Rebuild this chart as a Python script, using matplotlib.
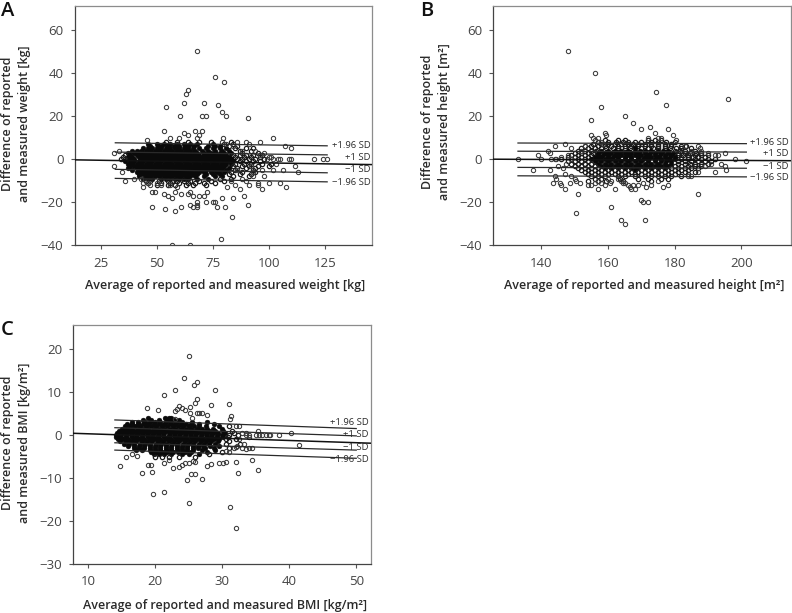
import matplotlib

matplotlib.use("Agg")
import matplotlib.pyplot as plt

plt.rcParams["font.family"] = ["Open Sans", "DejaVu Sans"]

W, H = 792, 613

# sparse points
weight_x = [68, 76, 80, 64, 63, 62, 71, 54, 77.5, 79, 60.5, 70, 72, 81, 90.5, 53, 67, 70, 69, 62, 64, 102, 79.5, 60, 56, 68,
            45.5, 90, 96, 86, 107, 110, 79, 81, 91, 33, 31, 120, 124, 126, 109, 110, 105, 104, 102, 100, 99, 111.5, 113,
            106.5, 102, 98, 97, 100, 105, 107.5, 97, 95, 95, 93, 91, 90, 88, 87, 85, 89, 90.5, 84, 81.5, 80.5, 83.5, 78.5,
            79, 75, 76, 77, 72, 72.5, 71, 69, 68, 68, 68, 66, 65, 65, 66, 64, 61, 61, 58, 53.5, 48, 57, 55, 53, 48, 49, 44,
            46, 36, 34.5, 31, 57, 65, 58, 59, 40, 43, 98, 101, 103, 94, 92, 96, 93, 88, 86, 84, 83, 44, 47, 50, 52, 56]
weight_y = [50, 38, 36, 32, 30, 26, 26, 24, 25, 22, 20, 20, 20, 20, 19, 13, 13, 13, 11, 12, 11, 10, 10, 10, 10, 10,
            9, 8, 8, 8, 6, 5, 8, 7, 7, 4, 3, 0, 0, 0, 0, 0, 0, 0, 0, 1, 0, -3, -6,
            -5, -5, -8, -5, -11, -11, -13, -14, -11, -12, -8, -12, -10, -9, -14, -12, -17, -21, -18, -13, -22, -27, -37,
            -18, -20, -20, -22, -20, -15, -17, -17, -20, -21, -22, -17, -15, -21, -22, -16, -16, -22, -24, -23, -22, -18, -17, -16, -15, -15, -13,
            -11, -10, -6, -3, -40, -40, -15, -13, -9, -9, 3, 1, -2, 4, -3, 2, -6, 4, -5, 6, -10, -11, -12, -11, -12, -12]

height_x = [148, 156, 174.5, 196, 177.5, 158, 155, 165, 167.5, 170, 172.5, 178, 174, 159, 159.5, 155, 155.5, 172, 175, 176,
            179.5, 180.5, 147, 144, 142, 142.5, 149, 139, 140, 133, 143, 144, 144.5, 137.5, 142.5, 147, 146.5, 145, 147.5,
            148, 144, 144.5, 143.5, 145.5, 146, 147, 148.5, 149, 150, 150.5, 151, 150.5, 151.5, 154, 155, 156, 157, 159,
            160.5, 162, 161, 164, 165, 167, 168, 167.5, 169, 170, 170.5, 171, 172, 170.5, 171.5, 173, 175, 176.5, 178, 187,
            192, 195.5, 195, 194, 198, 201.5, 195, 193, 192, 191, 187, 187.5, 183, 185, 184, 185, 187, 156, 157, 158, 158.5,
            163, 164, 165, 166, 157, 158, 160, 161, 166.5, 164.5, 190, 189, 188, 146, 149, 152, 153]
height_y = [50, 40, 31, 28, 25, 24, 18, 20, 17, 14, 15, 14, 12, 12, 11, 11, 10, 10, 10, 10,
            11, 9, 7, 6, 4, 3, 5, 2, 0, 0, 0, 0, 0, -5, -5, -7, -4, -3, -2,
            2, -8, -9, -11, -11, -12, -14, -11, -8, -9, -10, -16, -25, -11, -12, -12, -11, -14, -12,
            -11, -14, -22, -28, -30, -14, -14, -12, -12, -19, -20, -28, -20, -11, -13, -12, -10, -13, -12, -16,
            -6, -5, -3, -2, 0, -1, 3, 2, 2, -2, 6, 5, 6, 4, -8, -8, -6, 9, 10, 8, 7,
            -9, -10, -11, -12, -10, -11, -9, -10, -13, -11, 3, -3, 4, 1, 0, 4, 6]

bmi_x = [25, 24.3, 26.2, 25.8, 23, 29, 21.3, 26.2, 26, 31, 23.5, 24, 18.8, 20.5, 23, 23.2, 24.5, 25.2, 25.2, 26.3, 26.5, 27,
         28.3, 27.7, 31.3, 31.1, 25.5, 23, 32, 32.5, 35.3, 33.5, 34, 35, 35.5, 36, 36.5, 37, 37.2, 38.5, 40.2, 41.5, 34.5,
         34, 33.5, 34.5, 35.3, 32.4, 32, 30.5, 30.2, 29.5, 28.4, 27.7, 27, 26, 25.3, 24.8, 25, 21.3, 19.7, 19.5, 18, 19,
         19.4, 14.8, 15.7, 16.5, 17.3, 22.7, 23.6, 24, 24.5, 25, 31.2, 32.1, 21.3, 22, 26, 25.7, 33, 32.5, 32, 33.3, 31.8,
         33, 32.2, 34, 31, 30.5, 33.6]
bmi_y = [18.3, 13.2, 12.4, 11.6, 10.4, 10.4, 9.2, 8.4, 7.4, 7.2, 6.8, 6.2, 6.3, 5.7, 5.6, 6, 5.7, 6.5, 5.2, 5, 5, 5.2,
         7, 4.7, 4.5, 3.8, 4, 3.7, 2, 2, 1, 0.5, 0.1, 0, 0, 0, 0, 0, 0, 0, 0.4, -2.3, -2.9,
         -2.9, -3.3, -5.8, -8.2, -8.7, -6.2, -6.2, -6.5, -6.4, -6.8, -7.3, -10.2, -9, -9, -10.4, -15.8, -13.3, -13.8, -8.5, -8.7, -7,
         -7, -7.1, -5.2, -4.3, -4.9, -7.6, -7.5, -7, -6.5, -6.5, -16.6, -21.6, -6.5, -5.8, -6.2, -6, 0.5, -1, -2.8, -2, -3,
         -3, -2.6, -0.5, -4, -3.8, 0]

# dense clouds, one list of x per y level
weight_rows = {
    8: [54, 59, 64, 69, 74, 83],
    7: [46, 50, 53, 56, 59, 62, 65, 68, 75, 80, 84],
    6: [47, 50.5, 52, 55, 57.5, 60, 62.5, 64, 66.5, 73, 76, 78, 82, 86],
    5: [44, 46, 48, 50, 52, 54, 56, 58, 60, 62, 64, 66, 69, 72, 75, 78, 81, 85, 90, 93],
    4: [39, 41, 43, 45, 47, 49, 51, 53, 55, 57, 59, 61, 63, 65, 67, 70, 73, 76, 79, 82, 87, 92],
    3: [37, 40, 42, 44, 46, 48, 50, 52, 54, 56, 58, 60, 62, 64, 66, 68, 71, 74, 76, 78, 80, 83, 88, 95],
    2: [36, 38, 41, 43, 45, 47, 49, 51, 53, 55, 57, 59, 61, 63, 65, 67, 69, 71, 73, 75, 77, 79, 81, 84, 87, 90, 93, 97],
    1: [35, 37, 39, 42, 44, 46, 48, 50, 52, 54, 56, 58, 60, 62, 64, 66, 68, 70, 72, 74, 76, 78, 80, 82, 85, 89, 92, 96],
    0: [34, 36, 38, 40, 43, 45, 47, 49, 51, 53, 55, 57, 59, 61, 63, 65, 67, 69, 71, 73, 75, 77, 79, 81, 83, 86, 88, 91, 94, 98],
    -1: [36, 38, 40, 42, 44, 46, 48, 50, 52, 54, 56, 58, 60, 62, 64, 66, 68, 70, 72, 74, 76, 78, 80, 82, 84, 87, 90, 93, 96],
    -2: [37, 39, 41, 43, 45, 47, 49, 51, 53, 55, 57, 59, 61, 63, 65, 67, 69, 71, 73, 75, 77, 79, 81, 83, 85, 89, 92, 97, 101],
    -3: [38, 40, 42, 44, 46, 48, 50, 52, 54, 56, 58, 60, 62, 64, 66, 68, 70, 72, 74, 76, 78, 80, 84, 88, 91, 95, 100],
    -4: [37, 41, 43, 45, 47, 49, 51, 53, 55, 57, 59, 61, 63, 65, 67, 69, 71, 73, 75, 77, 79, 82, 86, 90, 94],
    -5: [39, 42, 44, 46, 48, 50, 52, 54, 56, 58, 60, 62, 64, 66, 68, 70, 72, 74, 76, 78, 81, 85, 93],
    -6: [41, 43, 45, 47, 49, 51, 53, 55, 57, 59, 61, 63, 65, 67, 69, 71, 74, 77, 80, 83, 88, 94],
    -7: [42, 44, 46, 48, 50, 52, 54, 56, 58, 60, 62, 64, 66, 68, 72, 75, 78, 82, 87, 92],
    -8: [42, 45, 47, 49, 51, 53, 55, 57, 59, 61, 63, 65, 67, 71, 76, 79, 84, 91],
    -9: [44, 46, 48, 52, 54, 56, 58, 60, 62, 64, 68, 73, 78, 83],
    -10: [45, 47, 51, 55, 57, 59, 62, 65, 69, 74, 80],
    -11: [46, 52, 56, 60, 64, 67, 71, 76],
    -12: [50, 55, 58, 63, 66, 72],
}

height_rows = {
    9: [159, 163, 165, 172, 174, 176],
    8: [157, 160, 162.5, 164.5, 166, 168, 170, 173, 175, 177.5, 180],
    7: [155.5, 158, 160, 162, 164, 166, 167.5, 169, 171, 173, 175, 177, 179],
    6: [153, 155, 157, 159, 161, 163, 165, 167, 169, 171, 173, 175, 177, 179, 182, 183.5],
    5: [152, 154, 156, 158, 159.5, 161.5, 163, 165, 166.5, 168, 170, 172, 173.5, 175, 177, 178.5, 180.5, 182, 185],
    4: [151, 153, 155, 156.5, 158, 160, 162, 164, 166, 168, 169.5, 171, 173, 175, 176.5, 178, 180, 181.5, 183, 186],
    3: [150, 152, 154, 155.5, 157, 159, 161, 163, 165, 167, 169, 171, 172.5, 174, 176, 178, 179.5, 181, 183, 184.5, 186.5, 188],
    2: [149, 151, 153, 155, 157, 158.5, 160, 162, 164, 166, 168, 170, 172, 174, 175.5, 177, 179, 181, 182.5, 184, 186, 188, 190],
    1: [148, 150, 152, 154, 156, 158, 160, 161.5, 163, 165, 167, 169, 171, 173, 175, 177, 178.5, 180, 182, 184, 185.5, 187, 189],
    0: [146, 149, 151, 153, 155, 157, 159, 161, 163, 165, 167, 169, 170.5, 172, 174, 176, 178, 180, 182, 184, 186, 188, 190, 192],
    -1: [148, 150, 152, 154, 156, 158, 160, 162, 164, 166, 168, 170, 172, 174, 176, 177.5, 179, 181, 183, 185, 187, 189, 191],
    -2: [149, 151, 153, 155, 157, 159, 161, 163, 165, 167, 169, 171, 173, 175, 177, 179, 181, 183, 184.5, 186, 188, 190],
    -3: [150, 152, 154, 156, 158, 160, 162, 164, 166, 168, 170, 172, 174, 176, 178, 180, 182, 184, 186, 188],
    -4: [151, 153, 155, 157, 159, 161, 163, 165, 167, 169, 171, 173, 175, 177, 179, 181, 183, 185, 187],
    -5: [152, 154, 156, 158, 160, 162, 164, 166, 168, 170, 172, 174, 176, 178, 180, 182, 184],
    -6: [153, 155, 157, 159, 161, 163, 165, 167, 169, 171, 173, 175, 177, 179, 181, 183, 186],
    -7: [154, 156, 158, 160, 162, 164, 166, 168, 170, 172, 174, 176, 178, 180, 184],
    -8: [155, 157, 159, 163, 165, 168, 171, 173, 175, 177, 179, 182],
    -9: [156, 158, 163.5, 169, 172, 176, 178],
    -10: [154, 157, 159.5, 164.5, 173],
}

bmi_rows = {
    4: [19, 21.5, 22, 22.4],
    3.5: [18.2, 19.4, 20.6, 21.8, 22.8, 23.6],
    3: [16.5, 17.5, 18.5, 19.2, 20, 20.8, 21.6, 22.4, 23.2, 24, 25.5, 27.8],
    2.5: [15.8, 16.6, 17.4, 18.2, 19, 19.8, 20.6, 21.4, 22.2, 23, 23.8, 24.6, 25.4, 26.5, 28.8],
    2: [15.5, 16.2, 17, 17.8, 18.6, 19.4, 20.2, 21, 21.8, 22.6, 23.4, 24.2, 25, 25.8, 26.6, 27.6, 29.5, 31],
    1.5: [15, 15.8, 16.6, 17.4, 18.2, 19, 19.8, 20.6, 21.4, 22.2, 23, 23.8, 24.6, 25.4, 26.2, 27, 27.8, 28.6, 30],
    1: [14.6, 15.4, 16.2, 17, 17.8, 18.6, 19.4, 20.2, 21, 21.8, 22.6, 23.4, 24.2, 25, 25.8, 26.6, 27.4, 28.2, 29, 30.2, 31.4],
    0.5: [14.3, 15, 15.8, 16.6, 17.4, 18.2, 19, 19.8, 20.6, 21.4, 22.2, 23, 23.8, 24.6, 25.4, 26.2, 27, 27.8, 28.6, 29.4, 30.4, 31.8],
    0: [14.2, 14.8, 15.6, 16.4, 17.2, 18, 18.8, 19.6, 20.4, 21.2, 22, 22.8, 23.6, 24.4, 25.2, 26, 26.8, 27.6, 28.4, 29.2, 30, 31, 32.4],
    -0.5: [14.1, 14.9, 15.7, 16.5, 17.3, 18.1, 18.9, 19.7, 20.5, 21.3, 22.1, 22.9, 23.7, 24.5, 25.3, 26.1, 26.9, 27.7, 28.5, 29.3, 30.1, 30.9],
    -1: [14.4, 15.2, 16, 16.8, 17.6, 18.4, 19.2, 20, 20.8, 21.6, 22.4, 23.2, 24, 24.8, 25.6, 26.4, 27.2, 28, 28.8, 29.6, 30.6, 32],
    -1.5: [14.8, 15.6, 16.4, 17.2, 18, 18.8, 19.6, 20.4, 21.2, 22, 22.8, 23.6, 24.4, 25.2, 26, 26.8, 27.6, 28.4, 29.4, 31],
    -2: [15.3, 16.1, 16.9, 17.7, 18.5, 19.3, 20.1, 20.9, 21.7, 22.5, 23.3, 24.1, 24.9, 25.7, 26.5, 27.3, 28.1, 29, 30.6, 32.6],
    -2.5: [16, 16.8, 17.6, 18.4, 19.2, 20, 20.8, 21.6, 22.4, 23.2, 24, 24.8, 25.6, 26.4, 27.2, 28.2, 29.6],
    -3: [16.8, 17.6, 18.4, 19.2, 20, 20.8, 21.6, 22.4, 23.2, 24, 24.8, 25.6, 26.4, 27.4, 28.8, 31],
    -3.5: [17.2, 18, 19.2, 20, 20.8, 21.6, 22.4, 23.2, 24, 24.8, 25.6, 27, 29],
    -4: [19.4, 20.2, 21, 21.8, 22.6, 23.4, 24.4, 25.4, 27.8, 30],
    -4.5: [19.8, 20.6, 21.4, 22.4, 24, 25, 26.5, 28],
    -5: [20, 21, 22, 23.5, 26],
}

# start and end of the limit lines, top to bottom: +1.96, +1, mean, -1, -1.96
weight_line_x = [31.5, 126]
weight_limits = [(7.6, 6.2), (3.3, 2.0), (-4.7, -6.3), (-8.9, -10.5)]
weight_mean = [(13.3, -0.3), (146, -2.5)]
height_line_x = [133, 201.5]
height_limits = [(7.5, 7.2), (3.7, 3.3), (-3.8, -4.2), (-7.7, -8.2)]
height_mean = [(125.6, 0.0), (214.8, -0.7)]
bmi_line_x = [14, 50]
bmi_limits = [(3.5, 1.5), (1.7, -0.2), (-1.8, -3.5), (-3.5, -5.4)]
bmi_mean = [(7.8, 0.4), (52.2, -1.9)]

sd_labels = ["+1.96 SD", "+1 SD", "\u22121 SD", "\u22121.96 SD"]

TEXT = "#2b2b2b"
TICK = "#444444"


def make_axes(fig, left, right, top, bottom, xlim, ylim, xticks, yticks):
    ax = fig.add_axes([left / W, 1 - bottom / H, (right - left) / W, (bottom - top) / H])
    ax.set_xlim(*xlim)
    ax.set_ylim(*ylim)
    ax.set_xticks(xticks)
    ax.set_yticks(yticks)
    ax.set_yticklabels([str(v).replace("-", "\u2212") for v in yticks])
    ax.tick_params(length=3, width=0.8, color="#555555", labelsize=9.5, labelcolor=TICK, pad=5)
    for name, spine in ax.spines.items():
        spine.set_linewidth(0.9)
        spine.set_color("#444444" if name in ("left", "bottom") else "#8c8c8c")
    return ax


def draw(ax, x, y, rows, blob, line_x, limits, mean, label_x, label_y):
    # points inside the black part of the cloud are drawn filled
    cx, cy, rx, ry = blob
    for level, xs in rows.items():
        inner = [v for v in xs if abs((v - cx) / rx) ** 3 + abs((level - cy) / ry) ** 3 <= 1]
        outer = [v for v in xs if v not in inner]
        ax.plot(inner, [level] * len(inner), "o", ms=3.5, mfc="#0a0a0a", mec="#0a0a0a", mew=0.3, zorder=2)
        ax.plot(outer, [level] * len(outer), "o", ms=3.1, mfc="none", mec="#1c1c1c", mew=0.9, zorder=2)
    ax.plot(x, y, "o", ms=3.1, mfc="none", mec="#3a3a3a", mew=0.75, zorder=2)
    for start, end in limits:
        ax.plot(line_x, [start, end], color="#2a2a2a", lw=0.9, zorder=3)
    ax.plot([mean[0][0], mean[1][0]], [mean[0][1], mean[1][1]], color="#111111", lw=1.1, zorder=3)
    for text, ypos in zip(sd_labels, label_y):
        ax.text(label_x, ypos, text, fontsize=6.8, color=TEXT, ha="right", va="center", zorder=4)


def labels(fig, letter, letter_xy, xlabel, xlabel_xy, ylabel, ylabel_xy):
    fig.text(letter_xy[0] / W, 1 - letter_xy[1] / H, letter, fontsize=14.5, color="#111111", ha="left", va="baseline",
             fontweight="semibold")
    fig.text(xlabel_xy[0] / W, 1 - xlabel_xy[1] / H, xlabel, fontsize=9, color=TEXT, ha="center", va="center",
             fontweight="semibold")
    fig.text(ylabel_xy[0] / W, 1 - ylabel_xy[1] / H, ylabel, fontsize=9, color=TEXT, ha="center", va="center",
             rotation=90, linespacing=1.45, multialignment="center", fontweight="semibold")


fig = plt.figure(figsize=(W / 100, H / 100), dpi=100)

ax_a = make_axes(fig, 74.5, 372, 6, 245.5, (13.3, 146), (-40, 71), [25, 50, 75, 100, 125], [-40, -20, 0, 20, 40, 60])
draw(ax_a, weight_x, weight_y, weight_rows, (60, -1, 24, 9), weight_line_x, weight_limits, weight_mean,
     145.5, [6.2, 0.6, -5, -11])
labels(fig, "A", (1, 15.5), "Average of reported and measured weight [kg]", (225, 286),
       "Difference of reported\nand measured weight [kg]", (16, 123.5))

ax_b = make_axes(fig, 493.3, 790.7, 6, 245.5, (125.6, 214.8), (-40, 71), [140, 160, 180, 200], [-40, -20, 0, 20, 40, 60])
draw(ax_b, height_x, height_y, height_rows, (168, 0, 13, 5), height_line_x, height_limits, height_mean,
     214.2, [7.6, 2.5, -3.5, -8.7])
labels(fig, "B", (420, 15.5), "Average of reported and measured height [m\u00b2]", (644, 286),
       "Difference of reported\nand measured height [m\u00b2]", (436, 122))

ax_c = make_axes(fig, 73.3, 371, 324.7, 564.3, (7.8, 52.2), (-30, 25.6), [10, 20, 30, 40, 50], [-30, -20, -10, 0, 10, 20])
draw(ax_c, bmi_x, bmi_y, bmi_rows, (22, -0.3, 8.5, 4.5), bmi_line_x, bmi_limits, bmi_mean,
     51.8, [3, 0.2, -2.8, -5.6])
labels(fig, "C", (1, 335), "Average of reported and measured BMI [kg/m\u00b2]", (225, 605),
       "Difference of reported\nand measured BMI [kg/m\u00b2]", (16, 443))

fig.savefig("out.png", dpi=100)
